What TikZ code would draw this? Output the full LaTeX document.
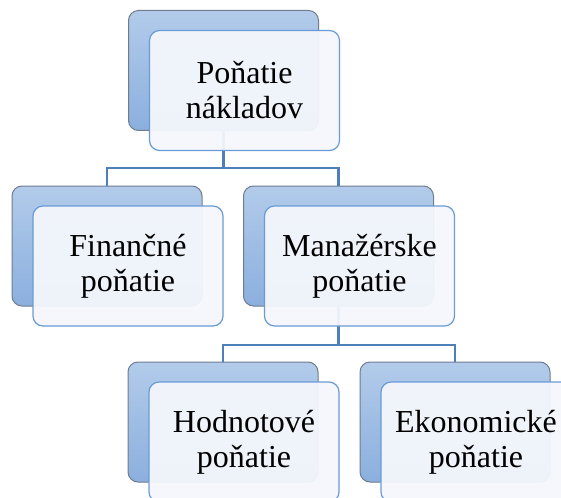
\documentclass[tikz,border=0pt]{standalone}
\usepackage{fontspec}
\setmainfont{Liberation Serif}
\usetikzlibrary{positioning}

\definecolor{backtop}{HTML}{B2CBEA}
\definecolor{backbot}{HTML}{8BAFDE}
\definecolor{backline}{HTML}{6E7C8E}
\definecolor{frontline}{HTML}{6A9BD6}
\definecolor{frontfill}{HTML}{F4F7FC}
\definecolor{connline}{HTML}{4F7FBA}

\begin{document}
\begin{tikzpicture}[x=1pt, y=-1pt,
    backbox/.style={draw=backline, line width=1pt, rounded corners=10pt,
        top color=backtop, bottom color=backbot,
        minimum width=190pt, minimum height=120pt, inner sep=0pt},
    frontbox/.style={draw=frontline, line width=1.2pt, rounded corners=10pt,
        fill=frontfill, fill opacity=0.95, text opacity=1,
        minimum width=190pt, minimum height=120pt, inner sep=0pt,
        align=center, font=\fontsize{32}{35}\selectfont},
    conn/.style={draw=connline, line width=2.6pt}]
    \useasboundingbox (0,0) rectangle (561,497);

    % Back boxes
    \node[backbox] (topb) at (223.5,70.5) {};
    \node[backbox] (finb) at (107,246) {};
    \node[backbox] (manb) at (338.5,246) {};
    \node[backbox] (hodb) at (223,422) {};
    \node[backbox] (ekob) at (455,422) {};

    % Connectors
    \coordinate (j1) at (223.5,168);
    \coordinate (j2) at (338.5,345);
    \draw[conn] (topb.south) -- (j1) -| (finb.north);
    \draw[conn] (j1) -| (manb.north);
    \draw[conn] (manb.south) -- (j2) -| (hodb.north);
    \draw[conn] (j2) -| (ekob.north);

    % Front boxes
    \node[frontbox] (top) at ([shift={(21,20)}]topb.center) {Poňatie\\nákladov};
    \node[frontbox] (fin) at ([shift={(21,20)}]finb.center) {Finančné\\poňatie};
    \node[frontbox] (man) at ([shift={(21,20)}]manb.center) {Manažérske\\poňatie};
    \node[frontbox] (hod) at ([shift={(21,20)}]hodb.center) {Hodnotové\\poňatie};
    \node[frontbox] (eko) at ([shift={(21,20)}]ekob.center) {Ekonomické\\poňatie};
\end{tikzpicture}
\end{document}
